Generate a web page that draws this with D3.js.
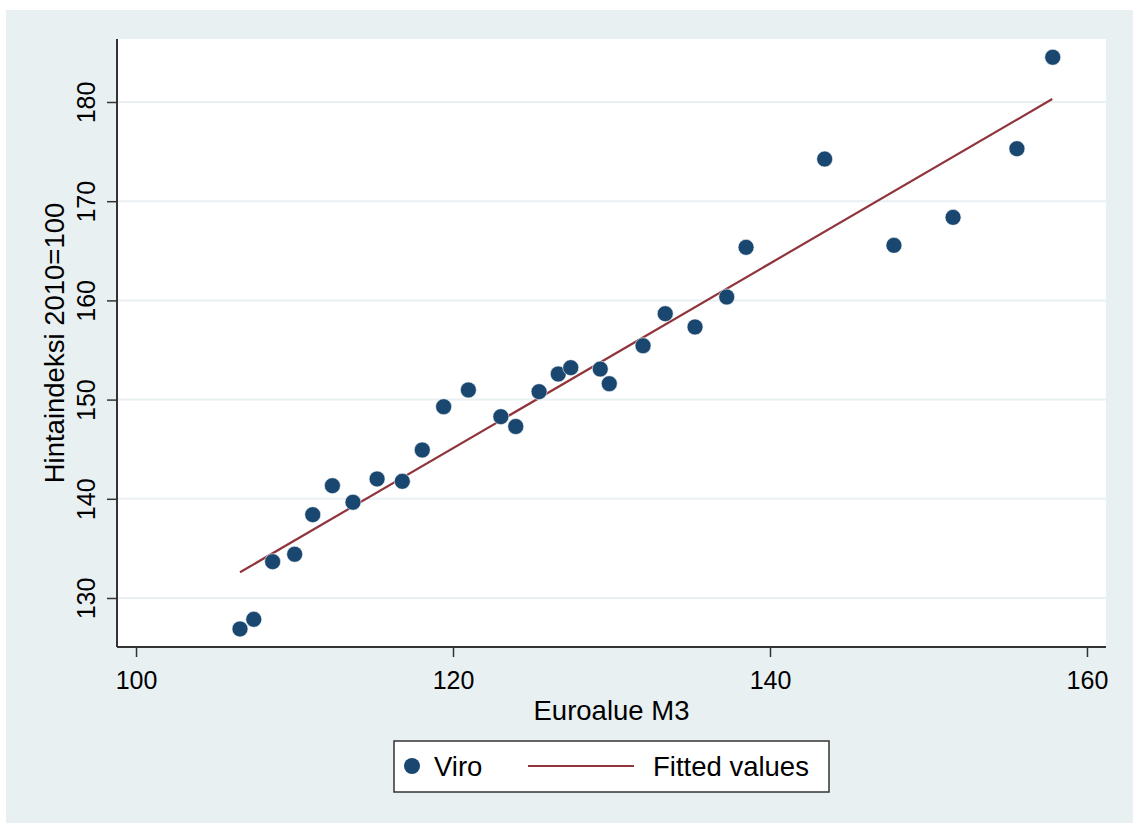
<!DOCTYPE html>
<html lang="fi">
<head>
<meta charset="UTF-8">
<title>Hintaindeksi vs Euroalue M3</title>
<script src="https://d3js.org/d3.v7.min.js"></script>
<style>
    html, body { margin: 0; padding: 0; background: #fff; }
    svg { display: block; font-family: Arial, "Liberation Sans", sans-serif; }
</style>
</head>
<body>
<div id="chart"></div>
<script>
// Data
const euroM3 = [106.56, 107.43, 108.62, 110.01, 111.15, 112.39, 113.69, 115.21, 116.80, 118.06,
                119.41, 120.97, 123.02, 123.96, 125.43, 126.64, 127.43, 129.29, 129.86, 131.99,
                133.39, 135.27, 137.27, 138.49, 143.45, 147.82, 151.55, 155.58, 157.84];
const hinta  = [126.88, 127.85, 133.66, 134.41, 138.40, 141.32, 139.65, 142.00, 141.76, 144.92,
                149.28, 150.97, 148.28, 147.29, 150.80, 152.58, 153.22, 153.08, 151.60, 155.43,
                158.66, 157.32, 160.34, 165.35, 174.25, 165.55, 168.37, 175.29, 184.51];
// fitted line end points
const fitX = [106.56, 157.81];
const fitY = [132.59, 180.30];

const xTicks = [100, 120, 140, 160];
const yTicks = [130, 140, 150, 160, 170, 180];
const legendLabels = ["Viro", "Fitted values"];

const W = 1133, H = 823;
const plot = { left: 117, right: 1106, top: 39, bottom: 647 };
const dotColor = "#1a476f", lineColor = "#90353b", bg = "#e9f0f2";

const svg = d3.select("#chart").append("svg")
    .attr("width", W).attr("height", H);

svg.append("rect").attr("x", 6).attr("y", 10)
    .attr("width", W - 6).attr("height", H - 10).attr("fill", bg);
svg.append("rect").attr("x", plot.left).attr("y", plot.top)
    .attr("width", plot.right - plot.left).attr("height", plot.bottom - plot.top)
    .attr("fill", "#fff");

const x = d3.scaleLinear().domain([98.8, 161.2]).range([plot.left, plot.right]);
const y = d3.scaleLinear().domain([125.06, 186.35]).range([plot.bottom, plot.top]);

// gridlines
svg.append("g").selectAll("line").data(yTicks).enter().append("line")
    .attr("x1", plot.left).attr("x2", plot.right)
    .attr("y1", d => y(d)).attr("y2", d => y(d))
    .attr("stroke", bg).attr("stroke-width", 2);

// axes
const yAxis = svg.append("g")
    .attr("transform", `translate(${plot.left},0)`)
    .call(d3.axisLeft(y).tickValues(yTicks).tickSize(10).tickPadding(0).tickFormat(d3.format("d")));
const xAxis = svg.append("g")
    .attr("transform", `translate(0,${plot.bottom})`)
    .call(d3.axisBottom(x).tickValues(xTicks).tickSize(10).tickPadding(14).tickFormat(d3.format("d")));

[xAxis, yAxis].forEach(a => {
    a.select(".domain").attr("stroke", "#333").attr("stroke-width", 2);
    a.selectAll(".tick line").attr("stroke", "#333").attr("stroke-width", 1.5);
    a.selectAll("text").attr("fill", "#000").style("font-size", "25px")
        .style("font-family", "Arial, 'Liberation Sans', sans-serif");
});
// x axis domain should span full plot width, y axis full height
xAxis.select(".domain").attr("d", `M${plot.left},0H${plot.right}`);
yAxis.select(".domain").attr("d", `M0,${plot.top}V${plot.bottom}`);

// rotated y tick labels
yAxis.selectAll(".tick text")
    .attr("x", 0).attr("dy", null)
    .attr("text-anchor", "middle")
    .attr("transform", "translate(-22,0) rotate(-90)");

// axis titles
svg.append("text").attr("x", (plot.left + plot.right) / 2).attr("y", 720)
    .attr("text-anchor", "middle").style("font-size", "27.5px").text("Euroalue M3");
svg.append("text")
    .attr("transform", `translate(64,343) rotate(-90)`)
    .attr("text-anchor", "middle").style("font-size", "27.5px").text("Hintaindeksi 2010=100");

// fitted line
const fit = fitX.map((v, i) => [v, fitY[i]]);
svg.append("path").datum(fit)
    .attr("d", d3.line().x(d => x(d[0])).y(d => y(d[1])))
    .attr("stroke", lineColor).attr("stroke-width", 2.2).attr("fill", "none");

// points
const pts = euroM3.map((v, i) => ({ x: v, y: hinta[i] }));
svg.append("g").selectAll("circle").data(pts).enter().append("circle")
    .attr("cx", d => x(d.x)).attr("cy", d => y(d.y)).attr("r", 8)
    .attr("fill", dotColor).attr("stroke", "#fff").attr("stroke-width", 0.6);

// legend
const lg = svg.append("g");
lg.append("rect").attr("x", 394).attr("y", 741).attr("width", 435).attr("height", 51)
    .attr("fill", "#fff").attr("stroke", "#333").attr("stroke-width", 1.5);
lg.append("circle").attr("cx", 412).attr("cy", 766).attr("r", 8).attr("fill", dotColor);
lg.append("text").attr("x", 434).attr("y", 776).style("font-size", "27.5px").text(legendLabels[0]);
lg.append("line").attr("x1", 528).attr("x2", 634).attr("y1", 766).attr("y2", 766)
    .attr("stroke", lineColor).attr("stroke-width", 2.2);
lg.append("text").attr("x", 653).attr("y", 776).style("font-size", "27.5px").text(legendLabels[1]);
</script>
</body>
</html>
